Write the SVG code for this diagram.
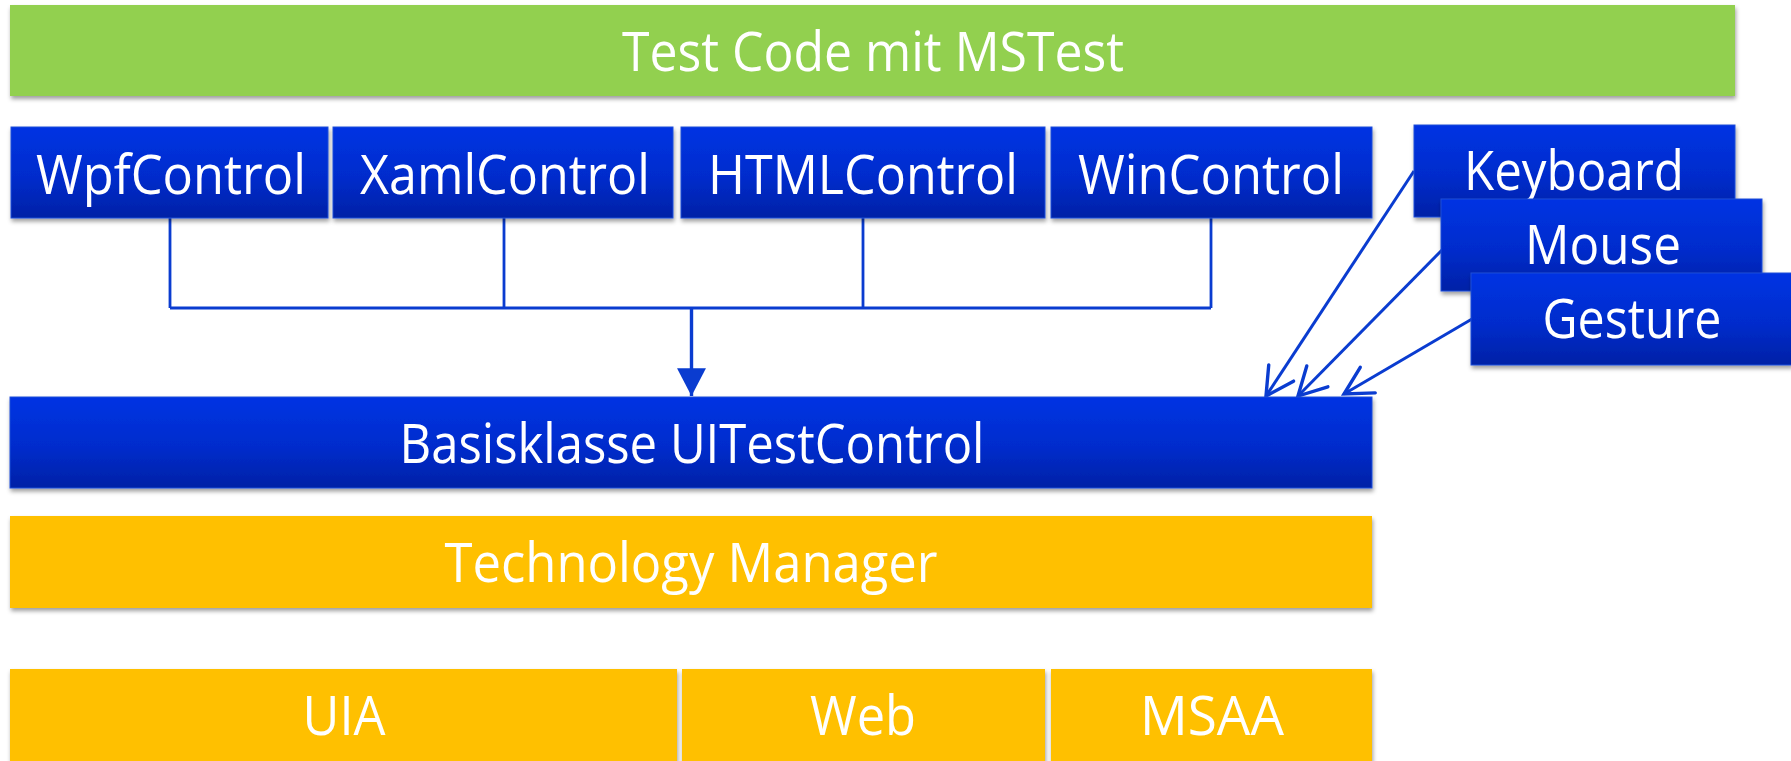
<svg xmlns="http://www.w3.org/2000/svg" width="1791" height="761" viewBox="0 0 1791 761">
  <style>
    .lbl { font-family: "Open Sans", "Noto Sans", "Liberation Sans", sans-serif; font-size: 55px; font-weight: 400; fill: #ffffff; text-anchor: middle; }
    .green { fill: #92D050; }
    .blue { fill: url(#blueGrad); stroke: #1E4FD8; stroke-width: 1; }
    .amber { fill: #FFC000; }
    .wire { fill: none; stroke: #0A3CD0; stroke-width: 2.8; }
    .thick { stroke-width: 3.4; }
    .diag { stroke-width: 3; }
  </style>
  <defs>
    <linearGradient id="blueGrad" x1="0" y1="0" x2="0" y2="1">
      <stop offset="0" stop-color="#0033E3"/>
      <stop offset="0.55" stop-color="#002CCC"/>
      <stop offset="1" stop-color="#0021A6"/>
    </linearGradient>
    <filter id="shadow" x="-5%" y="-20%" width="110%" height="150%">
      <feDropShadow dx="1" dy="3" stdDeviation="2.2" flood-color="#000000" flood-opacity="0.38"/>
    </filter>
    <marker id="solidHead" markerUnits="userSpaceOnUse" markerWidth="30" markerHeight="30" viewBox="-27 -14 28 28" refX="0" refY="0" orient="auto">
      <path d="M-26,-13.5 L0,0 L-26,13.5 Z" fill="#0A3CD0"/>
    </marker>
    <marker id="openHead" markerUnits="userSpaceOnUse" markerWidth="36" markerHeight="36" viewBox="-30 -17 33 34" refX="0" refY="0" orient="auto">
      <path d="M-26,-14 L0,0 L-26,14" fill="none" stroke="#0A3CD0" stroke-width="3.2" stroke-linecap="round" stroke-linejoin="miter"/>
    </marker>
  </defs>

  <!-- top layer -->
  <g id="node-testcode" filter="url(#shadow)">
    <rect class="green" x="10" y="5" width="1725" height="91"/>
    <text class="lbl" x="873" y="71" textLength="502" lengthAdjust="spacingAndGlyphs">Test Code mit MSTest</text>
  </g>

  <!-- connectors -->
  <g id="connectors">
    <path class="wire" d="M170,218 V308 M504,218 V308 M863,218 V308 M1211,218 V308 M170,308 H1211"/>
    <path class="wire thick" d="M691.5,308 V396" marker-end="url(#solidHead)"/>
    <path class="wire diag" d="M1414,171 L1266,396" marker-end="url(#openHead)"/>
    <path class="wire diag" d="M1442,250 L1298,396" marker-end="url(#openHead)"/>
    <path class="wire diag" d="M1472,319 L1344,394" marker-end="url(#openHead)"/>
  </g>

  <!-- control classes -->
  <g id="node-wpf" filter="url(#shadow)">
    <rect class="blue" x="11" y="127" width="317" height="91"/>
    <text class="lbl" x="171" y="194" textLength="270" lengthAdjust="spacingAndGlyphs">WpfControl</text>
  </g>
  <g id="node-xaml" filter="url(#shadow)">
    <rect class="blue" x="333" y="127" width="340" height="91"/>
    <text class="lbl" x="505" y="194" textLength="290" lengthAdjust="spacingAndGlyphs">XamlControl</text>
  </g>
  <g id="node-html" filter="url(#shadow)">
    <rect class="blue" x="681" y="127" width="364" height="91"/>
    <text class="lbl" x="863" y="194" textLength="310" lengthAdjust="spacingAndGlyphs">HTMLControl</text>
  </g>
  <g id="node-win" filter="url(#shadow)">
    <rect class="blue" x="1051" y="127" width="321" height="91"/>
    <text class="lbl" x="1211" y="194" textLength="266" lengthAdjust="spacingAndGlyphs">WinControl</text>
  </g>

  <!-- input devices -->
  <g id="node-keyboard" filter="url(#shadow)">
    <rect class="blue" x="1414" y="125" width="321" height="92"/>
    <text class="lbl" x="1574" y="190" textLength="220" lengthAdjust="spacingAndGlyphs">Keyboard</text>
  </g>
  <g id="node-mouse" filter="url(#shadow)">
    <rect class="blue" x="1441" y="199" width="321" height="92"/>
    <text class="lbl" x="1603" y="264" textLength="156" lengthAdjust="spacingAndGlyphs">Mouse</text>
  </g>
  <g id="node-gesture" filter="url(#shadow)">
    <rect class="blue" x="1471" y="273" width="321" height="92"/>
    <text class="lbl" x="1632" y="338" textLength="179" lengthAdjust="spacingAndGlyphs">Gesture</text>
  </g>

  <!-- base class -->
  <g id="node-basis" filter="url(#shadow)">
    <rect class="blue" x="10" y="397" width="1362" height="91"/>
    <text class="lbl" x="692" y="463" textLength="585" lengthAdjust="spacingAndGlyphs">Basisklasse UITestControl</text>
  </g>

  <!-- technology layer -->
  <g id="node-techmanager" filter="url(#shadow)">
    <rect class="amber" x="10" y="516" width="1362" height="92"/>
    <text class="lbl" x="691" y="582" textLength="493" lengthAdjust="spacingAndGlyphs">Technology Manager</text>
  </g>
  <g id="node-uia" filter="url(#shadow)">
    <rect class="amber" x="10" y="669" width="667" height="100"/>
    <text class="lbl" x="344" y="735" textLength="83" lengthAdjust="spacingAndGlyphs">UIA</text>
  </g>
  <g id="node-web" filter="url(#shadow)">
    <rect class="amber" x="682" y="669" width="363" height="100"/>
    <text class="lbl" x="863" y="735" textLength="106" lengthAdjust="spacingAndGlyphs">Web</text>
  </g>
  <g id="node-msaa" filter="url(#shadow)">
    <rect class="amber" x="1051" y="669" width="321" height="100"/>
    <text class="lbl" x="1212" y="735" textLength="144" lengthAdjust="spacingAndGlyphs">MSAA</text>
  </g>
</svg>
